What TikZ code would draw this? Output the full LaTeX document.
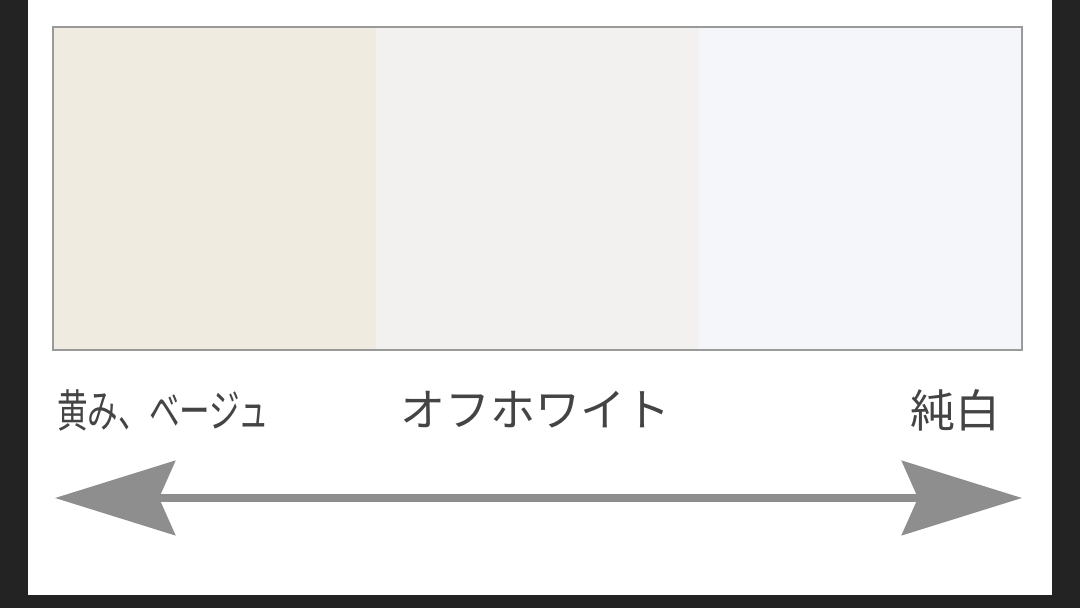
\documentclass[tikz,border=0pt]{standalone}
\usepackage{fontspec}
\newfontfamily\jpfont{Noto Sans CJK JP}
\usetikzlibrary{arrows.meta}
\definecolor{frame}{HTML}{232323}
\definecolor{beige}{HTML}{EFEBE1}
\definecolor{offwhite}{HTML}{F2F1EF}
\definecolor{purewhite}{HTML}{F4F6FA}
\definecolor{boxline}{HTML}{9A9A9A}
\definecolor{arrowgray}{HTML}{8E8E8E}
\definecolor{labeltext}{HTML}{444444}

\begin{document}
\begin{tikzpicture}[x=0.5pt,y=0.5pt]
\tikzstyle{swatch}=[rectangle,draw=none,minimum width=161.5pt,minimum height=161.5pt,inner sep=0,outer sep=0]
\tikzstyle{label}=[inner sep=0,text=labeltext,font=\jpfont\fontsize{22.5}{22.5}\selectfont]
\fill[frame] (0,0) rectangle (1080,608);
\fill[white] (28,13) rectangle (1052,608);
\useasboundingbox (0,0) rectangle (1080,608);
\node[swatch,fill=beige,anchor=north west] (beige) at (53,581) {};
\node[swatch,fill=offwhite,anchor=north west] (offwhite) at (beige.north east) {};
\node[swatch,fill=purewhite,anchor=north west] (pure) at (offwhite.north east) {};
\draw[boxline,line width=1pt] (beige.north west) rectangle (pure.south east);
\node[label,anchor=west,xscale=0.68] (yellow) at (57,198) {黄み、ベージュ};
\node[label] (middle) at (535,198) {オフホワイト};
\node[label,anchor=east] (white) at (1001,198) {純白};
\coordinate (la) at (55,110);
\coordinate (ra) at (1022,110);
\draw[arrowgray,line width=4pt,{Stealth[length=60pt,width=37pt,inset=8pt]}-{Stealth[length=60pt,width=37pt,inset=8pt]}] (la) -- (ra);
\end{tikzpicture}
\end{document}
